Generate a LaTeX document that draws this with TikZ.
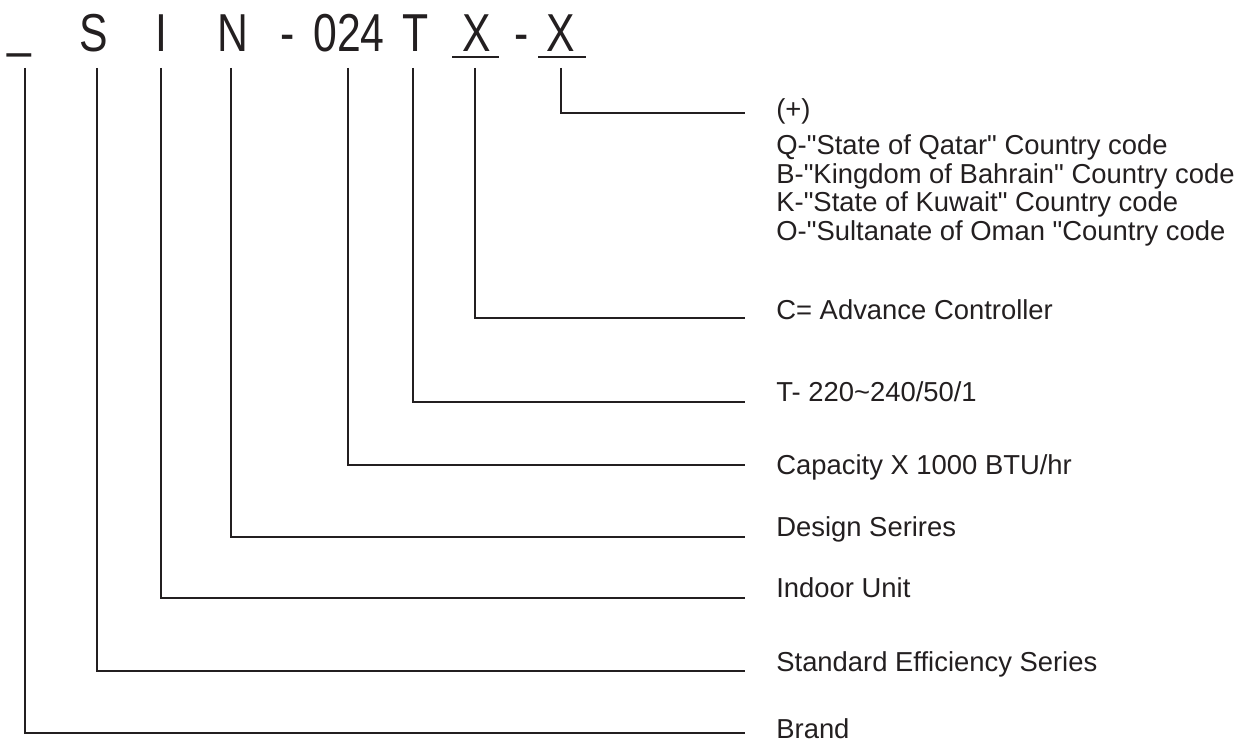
\documentclass[tikz,border=0pt]{standalone}
\usepackage{fontspec}
\setmainfont{Liberation Sans}
\newfontfamily\codefont{Liberation Sans}[FakeStretch=0.8]
\usepackage{tikz}
\usetikzlibrary{calc}
\definecolor{ink}{HTML}{231F20}
\newcommand{\qq}{\textquotedbl}

\begin{document}
\begin{tikzpicture}[
    x=0.02cm, y=-0.02cm,
    code/.style={inner sep=0pt, anchor=base, text=ink,
                 font=\codefont\fontsize{30.4}{36}\selectfont},
    lbl/.style={inner sep=0pt, anchor=base west, text=ink,
                font=\fontsize{15.6}{18}\selectfont},
    wire/.style={draw=ink, line width=1.1pt},
  ]
    \useasboundingbox (0,0) rectangle (1241,742);

    % model code
    \node[code] (cU) at (19.5,47) {\_};
    \node[code] (cS) at (94,52) {S};
    \node[code] (cI) at (161,52) {I};
    \node[code] (cN) at (233,52) {N};
    \node[code] (cD1) at (287.5,52) {-};
    \node[code] (cCap) at (349,52) {024};
    \node[code] (cT) at (416,52) {T};
    \node[code] (cX) at (477,52) {X};
    \node[code] (cD2) at (522,52) {-};
    \node[code] (cY) at (561,52) {X};
    \draw[wire] ($(cX.base)+(-25,5)$) -- ++(47,0);
    \draw[wire] ($(cY.base)+(-23,5)$) -- ++(48,0);

    % meanings
    \node[lbl] (plus) at (776,119) {(+)};
    \node[lbl] (qat) at (776,155) {Q-\qq State of Qatar\qq{} Country code};
    \node[lbl] (bah) at (776,183.5) {B-\qq Kingdom of Bahrain\qq{} Country code};
    \node[lbl] (kuw) at (776,212) {K-\qq State of Kuwait\qq{} Country code};
    \node[lbl] (oma) at (776,240.5) {O-\qq Sultanate of Oman \qq Country code};
    \node[lbl] (ctrl) at (776,320) {C= Advance Controller};
    \node[lbl] (volt) at (776,402) {T- 220\textasciitilde240/50/1};
    \node[lbl] (capa) at (776,475) {Capacity X 1000 BTU/hr};
    \node[lbl] (design) at (776,537) {Design Serires};
    \node[lbl] (indoor) at (776,598) {Indoor Unit};
    \node[lbl] (std) at (776,672) {Standard Efficiency Series};
    \node[lbl] (brand) at (776,738.5) {Brand};

    \coordinate (eY) at (745,113);
    \coordinate (eX) at (745,318);
    \coordinate (eT) at (745,402);
    \coordinate (eCap) at (745,465);
    \coordinate (eN) at (745,537);
    \coordinate (eI) at (745,598);
    \coordinate (eS) at (745,671);
    \coordinate (eU) at (745,733);

    \draw[wire] (cY.base) ++(0,16) |- (eY);
    \draw[wire] (cX.base) ++(-2,16) |- (eX);
    \draw[wire] (cT.base) ++(-3,16) |- (eT);
    \draw[wire] (cCap.base) ++(-1,16) |- (eCap);
    \draw[wire] (cN.base) ++(-2,16) |- (eN);
    \draw[wire] (cI.base) ++(0,16) |- (eI);
    \draw[wire] (cS.base) ++(3,16) |- (eS);
    \draw[wire] (cU.base) ++(5.5,21) |- (eU);
\end{tikzpicture}
\end{document}
